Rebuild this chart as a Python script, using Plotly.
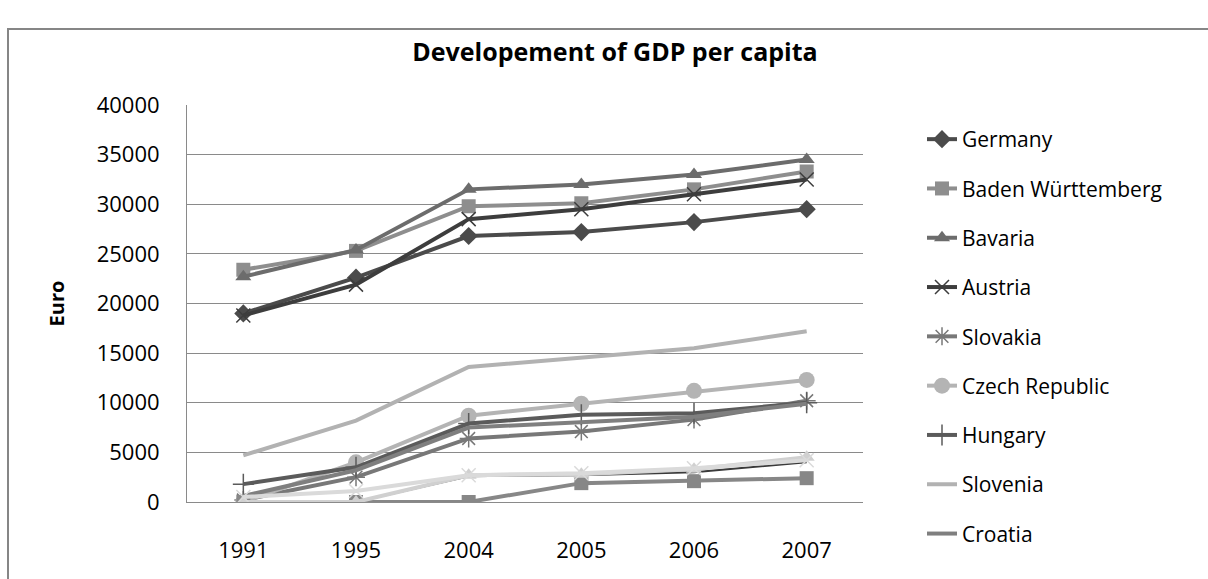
import plotly.graph_objects as go

years = ["1991", "1995", "2004", "2005", "2006", "2007"]

germany = [19000, 22600, 26800, 27200, 28200, 29500]
baden_wuerttemberg = [23400, 25300, 29800, 30100, 31500, 33300]
bavaria = [22700, 25400, 31500, 32000, 33000, 34500]
austria = [18800, 21900, 28500, 29500, 31000, 32500]
slovakia = [200, 2500, 6400, 7100, 8300, 10200]
czech_republic = [0, 4000, 8700, 9900, 11200, 12300]
hungary = [1800, 3500, 7900, 8800, 8950, 10000]
slovenia = [4700, 8200, 13600, 14500, 15500, 17200]
croatia = [600, 3200, 7500, 8000, 8600, 9900]
series10 = [0, 0, 2600, 2700, 3000, 4000]
series11 = [0, 0, 0, 1900, 2100, 2400]
series12 = [0, 0, 2700, 2800, 3300, 4500]
series13 = [500, 1100, 2700, 2900, 3400, 4200]

W, H = 1208, 579
L, R, T, B = 187, 863, 105, 502

fig = go.Figure()

def add(name, values, color, symbol=None, size=13, width=4, show=True, mline=0):
    mode = "lines+markers" if symbol else "lines"
    marker = dict(symbol=symbol, size=size, color=color,
                  line=dict(color=color, width=mline)) if symbol else None
    fig.add_trace(go.Scatter(
        x=years, y=values, name=name, mode=mode,
        line=dict(color=color, width=width),
        marker=marker, showlegend=show, legendgroup=name))

add("Germany", germany, "#4b4b4b", "diamond", 14)
add("Baden Württemberg", baden_wuerttemberg, "#8e8e8e", "square", 14)
add("Bavaria", bavaria, "#6c6c6c", "triangle-up", 14)
add("Austria", austria, "#3d3d3d", "x-thin", 14, mline=1.5)
add("Slovakia", slovakia, "#787878", "asterisk", 15, mline=1.5)
add("Czech Republic", czech_republic, "#b4b4b4", "circle", 16)
add("Hungary", hungary, "#5b5b5b", "cross-thin", 15, mline=1.5)
add("Slovenia", slovenia, "#b2b2b2")
add("Croatia", croatia, "#7f7f7f")
add("Series10", series10, "#3a3a3a", width=2, show=False)
add("Series11", series11, "#878787", "square", 14, show=False)
add("Series12", series12, "#d0d0d0", "triangle-up", 14, show=False)
add("Series13", series13, "#dadada", "x-thin", 14, show=False, mline=1.5)

def px_x(p):
    return (p - L) / (R - L)

def px_y(p):
    return (B - p) / (B - T)

fig.add_shape(type="rect", xref="paper", yref="paper",
              x0=px_x(8), x1=px_x(1216), y0=px_y(600), y1=px_y(29),
              line=dict(color="#868686", width=2), fillcolor="rgba(0,0,0,0)")

font_family = "Open Sans, DejaVu Sans, sans-serif"

fig.update_layout(
    width=W, height=H,
    margin=dict(l=L, r=W - R, t=T, b=H - B, pad=0),
    paper_bgcolor="white", plot_bgcolor="white",
    font=dict(family=font_family, color="#000000", size=20),
    title=dict(text="<b>Developement of GDP per capita</b>",
               x=615 / W, xref="container", xanchor="center",
               y=1 - 52 / H, yref="container", yanchor="middle",
               font=dict(size=25, family=font_family, color="#000000")),
    xaxis=dict(type="category", range=[-0.5, 5.5], showgrid=False,
               showline=True, linecolor="#8a8a8a", linewidth=1,
               ticks="", tickfont=dict(size=22), ticklabelstandoff=29,
               zeroline=False),
    yaxis=dict(range=[0, 40000], dtick=5000, showgrid=True,
               gridcolor="#8a8a8a", gridwidth=1, showline=True,
               linecolor="#8a8a8a", linewidth=1, ticks="",
               tickfont=dict(size=22), ticklabelstandoff=22,
               tickformat="d", zeroline=False,
               title=dict(text="<b>Euro</b>", font=dict(size=20), standoff=26)),
    legend=dict(xref="container", yref="container", x=922 / W, y=1 - 119 / H,
                xanchor="left", yanchor="top", traceorder="grouped",
                tracegroupgap=19, font=dict(size=21), bgcolor="rgba(0,0,0,0)",
                itemwidth=30, maxheight=560),
)

fig.write_html("out.html")
